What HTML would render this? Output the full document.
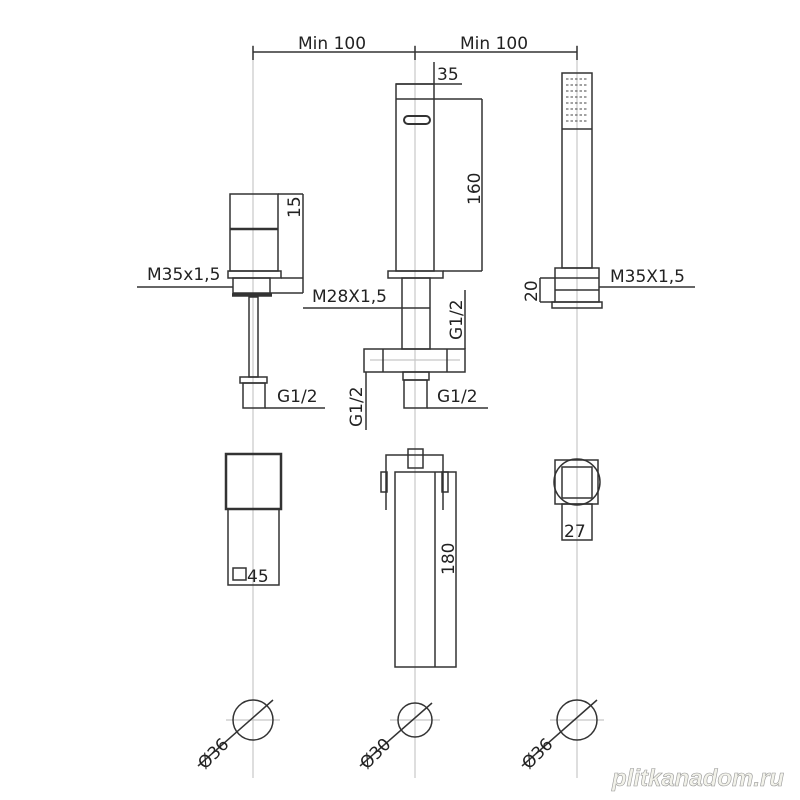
<!DOCTYPE html>
<html><head><style>body{margin:0;background:#fff}svg{display:block}</style></head><body>
<svg width="800" height="800" viewBox="0 0 800 800" xmlns="http://www.w3.org/2000/svg" font-family="'DejaVu Sans','Liberation Sans',sans-serif" font-size="17" fill="#222">
<g stroke="#c8c8c8" stroke-width="1.2">
<line x1="253" y1="45" x2="253" y2="778"/><line x1="415" y1="45" x2="415" y2="778"/><line x1="577" y1="45" x2="577" y2="778"/>
<line x1="226" y1="720" x2="280" y2="720"/><line x1="390" y1="720" x2="440" y2="720"/><line x1="550" y1="720" x2="604" y2="720"/>
<line x1="370" y1="360" x2="460" y2="360"/>
</g>
<g stroke="#333" stroke-width="1.5" fill="none">
<line x1="253" y1="52" x2="577" y2="52"/><line x1="253" y1="46" x2="253" y2="60"/><line x1="415" y1="46" x2="415" y2="60"/><line x1="577" y1="46" x2="577" y2="60"/>
<rect x="396" y="84" width="38" height="187"/><line x1="396" y1="99" x2="482" y2="99"/><line x1="434" y1="84" x2="434" y2="62"/>
<line x1="396" y1="84" x2="462" y2="84"/>
<line x1="482" y1="99" x2="482" y2="271"/><line x1="443" y1="271" x2="482" y2="271"/>
<rect x="404" y="116" width="26" height="8" rx="4" stroke-width="2"/>
<rect x="388" y="271" width="55" height="7"/>
<rect x="402" y="278" width="28" height="71"/>
<line x1="303" y1="308" x2="430" y2="308"/>
<line x1="465" y1="290" x2="465" y2="349"/>
<rect x="364" y="349" width="101" height="23"/><line x1="383" y1="349" x2="383" y2="372"/><line x1="447" y1="349" x2="447" y2="372"/>
<line x1="366" y1="372" x2="366" y2="430"/>
<rect x="403" y="372" width="26" height="8"/><rect x="404" y="380" width="23" height="28"/>
<line x1="427" y1="408" x2="488" y2="408"/>
<rect x="230" y="194" width="48" height="77"/><line x1="230" y1="229" x2="278" y2="229" stroke-width="2.5"/>
<line x1="278" y1="194" x2="303" y2="194"/><line x1="303" y1="194" x2="303" y2="293"/>
<rect x="228" y="271" width="53" height="7"/>
<rect x="233" y="278" width="37" height="15"/>
<line x1="232" y1="295" x2="272" y2="295" stroke-width="3.5"/>
<line x1="137" y1="287" x2="233" y2="287"/><line x1="281" y1="278" x2="303" y2="278"/><line x1="270" y1="293" x2="303" y2="293"/>
<rect x="249" y="297" width="9" height="80"/>
<rect x="240" y="377" width="27" height="6"/><rect x="243" y="383" width="22" height="25"/>
<line x1="265" y1="408" x2="325" y2="408"/>
<rect x="562" y="73" width="30" height="195"/><line x1="562" y1="129" x2="592" y2="129"/>
<rect x="555" y="268" width="44" height="34"/><line x1="555" y1="278" x2="599" y2="278"/><line x1="555" y1="290" x2="599" y2="290"/>
<rect x="552" y="302" width="50" height="6"/>
<line x1="599" y1="287" x2="695" y2="287"/>
<line x1="540" y1="278" x2="555" y2="278"/><line x1="540" y1="302" x2="555" y2="302"/><line x1="540" y1="278" x2="540" y2="302"/>
<rect x="226" y="454" width="55" height="55" stroke-width="2.5"/>
<rect x="228" y="509" width="51" height="76"/>
<rect x="233" y="568" width="13" height="12"/>
<path d="M386 510 V455 H443 V510"/><rect x="408" y="449" width="15" height="19"/>
<rect x="381" y="472" width="6" height="20"/><rect x="442" y="472" width="6" height="20"/>
<rect x="395" y="472" width="61" height="195"/><line x1="435" y1="472" x2="435" y2="667"/>
<rect x="555" y="460" width="43" height="44"/><rect x="562" y="467" width="30" height="31"/>
<circle cx="577" cy="482" r="23"/>
<rect x="562" y="504" width="30" height="36"/>
<circle cx="253" cy="720" r="20"/><circle cx="415" cy="720" r="17"/><circle cx="577" cy="720" r="20"/>
<line x1="198" y1="766" x2="273" y2="700"/><line x1="360" y1="766" x2="432" y2="703"/><line x1="522" y1="766" x2="597" y2="700"/>
</g>
<g fill="none" stroke="#444" stroke-width="1">
<path d="M566 79h22M566 85h22M566 91h22M566 97h22M566 103h22M566 109h22M566 115h22M566 121h22" stroke-dasharray="2.5 2"/>
</g>
<text x="298" y="49">Min 100</text><text x="460" y="49">Min 100</text>
<text x="437" y="80">35</text>
<text transform="translate(480,205) rotate(-90)">160</text>
<text transform="translate(300,218) rotate(-90)">15</text>
<text x="147" y="280">M35x1,5</text>
<text x="312" y="302">M28X1,5</text>
<text transform="translate(462,340) rotate(-90)">G1/2</text>
<text transform="translate(362,427) rotate(-90)">G1/2</text>
<text x="437" y="402">G1/2</text>
<text x="277" y="402">G1/2</text>
<text x="610" y="282">M35X1,5</text>
<text transform="translate(537,302) rotate(-90)">20</text>
<text x="247" y="582">45</text>
<text transform="translate(454,575) rotate(-90)">180</text>
<text x="564" y="537">27</text>
<text transform="translate(205,770) rotate(-45)">Ø36</text>
<text transform="translate(367,770) rotate(-45)">Ø30</text>
<text transform="translate(529,770) rotate(-45)">Ø36</text>
<text x="612" y="786" font-family="'Liberation Sans',sans-serif" font-size="24" font-style="italic" font-weight="bold" fill="#f2f2ea" stroke="#999" stroke-width="0.6">plitkanadom.ru</text>
</svg>
</body></html>
